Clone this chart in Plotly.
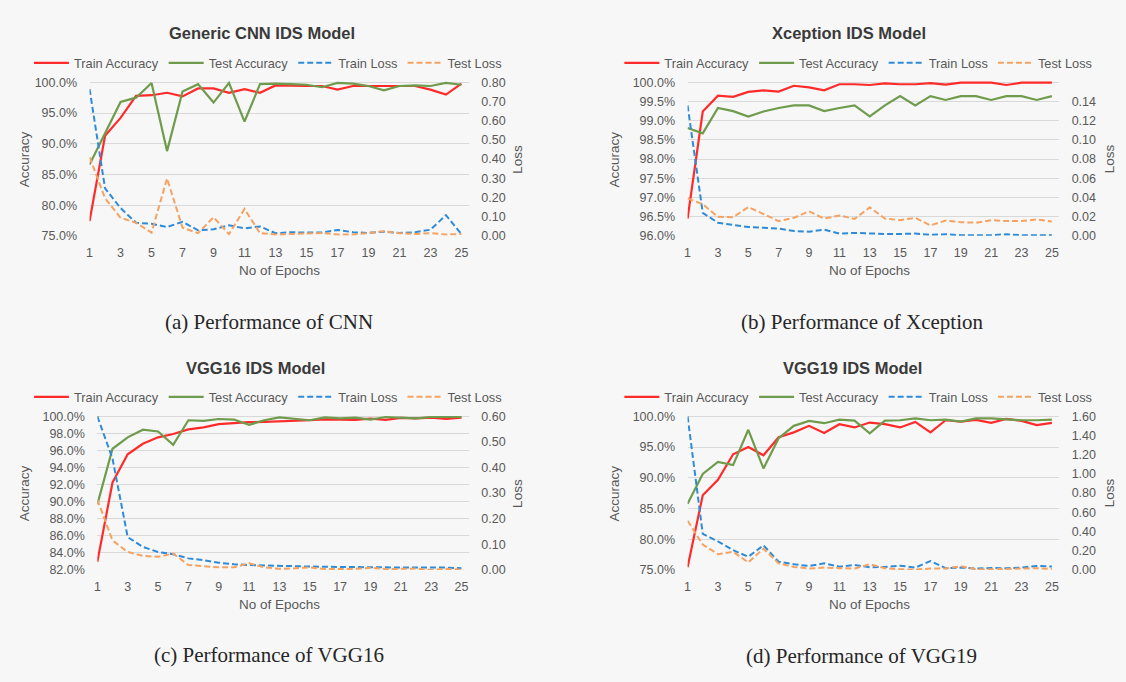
import plotly.graph_objects as go
import numpy as np

W, H = 1126, 682
epochs = list(range(1, 26))

# ---------------- data ----------------
cnn_train_acc = [77.4, 91.3, 94.2, 97.8, 97.9, 98.3, 97.7, 99.0, 99.0, 98.3, 98.9, 98.3, 99.5,
                 99.4, 99.4, 99.4, 98.8, 99.4, 99.4, 99.3, 99.4, 99.4, 98.8, 98.0, 99.8]
cnn_test_acc = [86.6, 91.8, 96.8, 97.5, 99.9, 88.8, 98.5, 99.7, 96.7, 99.9, 93.6, 99.7, 99.8,
                99.7, 99.6, 99.2, 99.9, 99.8, 99.4, 98.7, 99.4, 99.5, 99.4, 99.9, 99.6]
cnn_train_loss = [0.765, 0.247, 0.145, 0.068, 0.063, 0.046, 0.073, 0.029, 0.034, 0.055, 0.039,
                  0.049, 0.014, 0.019, 0.017, 0.017, 0.031, 0.019, 0.015, 0.022, 0.015, 0.019,
                  0.032, 0.108, 0.009]
cnn_test_loss = [0.41, 0.196, 0.094, 0.068, 0.017, 0.299, 0.043, 0.014, 0.097, 0.009, 0.14,
                 0.014, 0.007, 0.009, 0.012, 0.015, 0.007, 0.007, 0.015, 0.024, 0.014, 0.010,
                 0.014, 0.007, 0.010]

xc_train_acc = [96.45, 99.24, 99.65, 99.62, 99.75, 99.79, 99.76, 99.91, 99.87, 99.79, 99.95,
                99.95, 99.93, 99.97, 99.95, 99.95, 99.98, 99.94, 99.99, 99.99, 99.99, 99.93,
                99.99, 99.99, 99.99]
xc_test_acc = [98.81, 98.67, 99.33, 99.25, 99.11, 99.24, 99.33, 99.40, 99.40, 99.25, 99.33,
               99.40, 99.11, 99.40, 99.64, 99.40, 99.64, 99.54, 99.64, 99.64, 99.54, 99.64,
               99.64, 99.54, 99.64]
xc_train_loss = [0.136, 0.024, 0.0137, 0.0113, 0.0092, 0.0085, 0.0075, 0.0051, 0.0044, 0.0065,
                 0.0024, 0.0031, 0.0024, 0.002, 0.002, 0.0024, 0.001, 0.0017, 0.0007, 0.0007,
                 0.0007, 0.0017, 0.0007, 0.0007, 0.0007]
xc_test_loss = [0.039, 0.033, 0.0198, 0.0195, 0.030, 0.023, 0.0154, 0.0188, 0.0256, 0.018,
                0.0212, 0.0177, 0.0297, 0.018, 0.0164, 0.0188, 0.0109, 0.016, 0.0143, 0.0137,
                0.0164, 0.0154, 0.0154, 0.0171, 0.015]

v16_train_acc = [82.96, 92.25, 95.55, 96.78, 97.54, 97.93, 98.47, 98.70, 99.08, 99.23, 99.31,
                 99.35, 99.42, 99.42, 99.54, 99.65, 99.65, 99.58, 99.73, 99.58, 99.81, 99.77,
                 99.85, 99.69, 99.85]
v16_test_acc = [89.68, 96.2, 97.54, 98.43, 98.23, 96.66, 99.54, 99.46, 99.69, 99.62, 99.0,
                99.54, 99.88, 99.69, 99.54, 99.88, 99.77, 99.85, 99.62, 99.92, 99.88, 99.77,
                99.92, 99.92, 99.92]
v16_train_loss = [0.6, 0.435, 0.128, 0.09, 0.07, 0.061, 0.045, 0.038, 0.028, 0.022, 0.019,
                  0.017, 0.015, 0.014, 0.013, 0.012, 0.012, 0.012, 0.010, 0.010, 0.009, 0.009,
                  0.008, 0.009, 0.006]
v16_test_loss = [0.275, 0.115, 0.07, 0.055, 0.051, 0.064, 0.019, 0.015, 0.010, 0.010, 0.026,
                 0.010, 0.004, 0.006, 0.010, 0.003, 0.004, 0.004, 0.008, 0.003, 0.004, 0.005,
                 0.0, 0.004, 0.001]

v19_train_acc = [75.43, 87.15, 89.66, 93.82, 94.99, 93.66, 96.59, 97.39, 98.45, 97.28, 98.72,
                 98.19, 98.99, 98.72, 98.19, 99.09, 97.39, 99.36, 99.15, 99.41, 98.93, 99.57,
                 99.25, 98.56, 98.93]
v19_test_acc = [85.77, 90.62, 92.59, 92.06, 97.81, 91.52, 96.43, 98.45, 99.25, 98.88, 99.47,
                99.31, 97.23, 99.31, 99.36, 99.68, 99.36, 99.47, 99.15, 99.68, 99.68, 99.52,
                99.36, 99.36, 99.47]
v19_train_loss = [1.6, 0.375, 0.297, 0.205, 0.137, 0.256, 0.085, 0.058, 0.041, 0.068, 0.034,
                  0.051, 0.027, 0.031, 0.044, 0.024, 0.092, 0.017, 0.024, 0.014, 0.02, 0.017,
                  0.024, 0.041, 0.034]
v19_test_loss = [0.512, 0.263, 0.164, 0.188, 0.078, 0.222, 0.068, 0.031, 0.014, 0.024, 0.017,
                 0.014, 0.058, 0.017, 0.007, 0.003, 0.014, 0.014, 0.038, 0.007, 0.007, 0.007,
                 0.014, 0.017, 0.010]

titles = ["Generic CNN IDS Model", "Xception IDS Model", "VGG16 IDS Model", "VGG19 IDS Model"]
captions = ["(a) Performance of CNN", "(b) Performance of Xception",
            "(c) Performance of VGG16", "(d) Performance of VGG19"]
series_names = ["Train Accuracy", "Test Accuracy", "Train Loss", "Test Loss"]
acc_axes = [(75, 100, 5), (96, 100, 0.5), (82, 100, 2), (75, 100, 5)]
loss_axes = [(0.8, 0.1, 0.8), (0.16, 0.02, 0.14), (0.6, 0.1, 0.6), (1.6, 0.2, 1.6)]

panels_data = [
    (cnn_train_acc, cnn_test_acc, cnn_train_loss, cnn_test_loss),
    (xc_train_acc, xc_test_acc, xc_train_loss, xc_test_loss),
    (v16_train_acc, v16_test_acc, v16_train_loss, v16_test_loss),
    (v19_train_acc, v19_test_acc, v19_train_loss, v19_test_loss),
]

# ---------------- layout geometry (pixels) ----------------
geom = [
    dict(x0=86.8, x1=467.1, top=78.7, bot=235.0, title=(260, 28), cap=(267, 323),
         leg=(26, 59), acc_t=(21, 157), loss_t=(516, 157), ep_t=(277, 270)),
    dict(x0=686.4, x1=1059.0, top=78.7, bot=235.0, title=(848, 28), cap=(861, 323),
         leg=(618, 59), acc_t=(613, 157), loss_t=(1109, 157), ep_t=(869, 270)),
    dict(x0=94.6, x1=467.0, top=418.7, bot=575.0, title=(253, 369), cap=(267, 662),
         leg=(26, 399), acc_t=(21, 497), loss_t=(516, 497), ep_t=(277, 610)),
    dict(x0=686.4, x1=1059.0, top=418.7, bot=575.0, title=(852, 369), cap=(861, 663),
         leg=(618, 399), acc_t=(613, 497), loss_t=(1109, 497), ep_t=(869, 610)),
]

colors = ["#ff2b2b", "#6f9b4c", "#2f8bd8", "#f5a262"]
dashes = ["solid", "solid", "6px,3px", "6px,3px"]
FONT = "Liberation Sans, Arial, sans-serif"
TICKC = "#595959"
BG = "#f7f7f7"
PAD = 0.012

fig = go.Figure()
layout = dict(width=W, height=H, margin=dict(l=0, r=0, t=0, b=0),
              paper_bgcolor=BG, plot_bgcolor=BG, showlegend=True,
              font=dict(family=FONT, size=12.5, color=TICKC))
annotations = []

def px_x(p):
    return p / W

def px_y(p):
    return 1 - p / H

for i, (g, data) in enumerate(zip(geom, panels_data)):
    xa = "xaxis" if i == 0 else f"xaxis{i+1}"
    xref = "x" if i == 0 else f"x{i+1}"
    ya_acc_n = 2 * i + 1
    ya_loss_n = 2 * i + 2
    ya_acc = "yaxis" if ya_acc_n == 1 else f"yaxis{ya_acc_n}"
    ya_loss = f"yaxis{ya_loss_n}"
    yref_acc = "y" if ya_acc_n == 1 else f"y{ya_acc_n}"
    yref_loss = f"y{ya_loss_n}"
    legname = "legend" if i == 0 else f"legend{i+1}"

    height = g["bot"] - g["top"]
    top_ext = g["top"] - height * PAD
    ydom = [px_y(g["bot"]), px_y(top_ext)]
    xdom = [px_x(g["x0"]), px_x(g["x1"])]

    lo, hi, dt = acc_axes[i]
    lhi, ldt, lmaxlab = loss_axes[i]
    acc_ticks = list(np.round(np.arange(lo, hi + dt / 2, dt), 4))
    loss_ticks = list(np.round(np.arange(0, lmaxlab + ldt / 2, ldt), 4))

    layout[xa] = dict(domain=xdom, anchor=yref_acc, range=[1, 25.48],
                      tickvals=list(range(1, 26, 2)), ticktext=[str(v) for v in range(1, 26, 2)],
                      showgrid=False, zeroline=False, showline=False,
                      ticks="outside", ticklen=5, tickcolor="rgba(0,0,0,0)",
                      tickfont=dict(size=12.5, color=TICKC, family=FONT))
    layout[ya_acc] = dict(domain=ydom, anchor=xref, range=[lo, hi + (hi - lo) * PAD],
                          tickvals=acc_ticks, ticktext=[f"{v:.1f}%" for v in acc_ticks],
                          showgrid=True, gridcolor="#d9d9d9", gridwidth=1, zeroline=False,
                          showline=False, ticks="outside", ticklen=9,
                          tickcolor="rgba(0,0,0,0)",
                          tickfont=dict(size=12.5, color=TICKC, family=FONT))
    layout[ya_loss] = dict(domain=ydom, anchor=xref, overlaying=yref_acc, side="right",
                           range=[0, lhi * (1 + PAD)],
                           tickvals=loss_ticks, ticktext=[f"{v:.2f}" for v in loss_ticks],
                           showgrid=False, zeroline=False, showline=False,
                           ticks="outside", ticklen=9, tickcolor="rgba(0,0,0,0)",
                           tickfont=dict(size=12.5, color=TICKC, family=FONT))

    for k in range(4):
        yref = yref_acc if k < 2 else yref_loss
        fig.add_trace(go.Scatter(
            x=epochs, y=data[k], mode="lines", name=series_names[k],
            line=dict(color=colors[k], width=2.2 if k < 2 else 2.0, dash=dashes[k]),
            xaxis=xref, yaxis=yref, legend=legname, hoverinfo="skip"))

    layout[legname] = dict(orientation="h", x=px_x(g["leg"][0]), y=px_y(g["leg"][1]),
                           xanchor="left", yanchor="middle", bgcolor="rgba(0,0,0,0)",
                           font=dict(size=12.8, color=TICKC, family=FONT),
                           itemwidth=35, tracegroupgap=0)

    annotations.append(dict(text=f"<b>{titles[i]}</b>", x=px_x(g["title"][0]), y=px_y(g["title"][1]),
                            xref="paper", yref="paper", showarrow=False, xanchor="center",
                            yanchor="middle", font=dict(size=16.5, color="#3a3a3a", family=FONT)))
    annotations.append(dict(text=captions[i], x=px_x(g["cap"][0]), y=px_y(g["cap"][1]),
                            xref="paper", yref="paper", showarrow=False, xanchor="center",
                            yanchor="middle",
                            font=dict(size=21, color="#262626",
                                      family="Liberation Serif, Times New Roman, serif")))
    annotations.append(dict(text="Accuracy", x=px_x(g["acc_t"][0]), y=px_y(g["acc_t"][1]),
                            xref="paper", yref="paper", showarrow=False, textangle=-90,
                            xanchor="center", yanchor="middle",
                            font=dict(size=13.5, color=TICKC, family=FONT)))
    annotations.append(dict(text="Loss", x=px_x(g["loss_t"][0]), y=px_y(g["loss_t"][1]),
                            xref="paper", yref="paper", showarrow=False, textangle=-90,
                            xanchor="center", yanchor="middle",
                            font=dict(size=13.5, color=TICKC, family=FONT)))
    annotations.append(dict(text="No of Epochs", x=px_x(g["ep_t"][0]), y=px_y(g["ep_t"][1]),
                            xref="paper", yref="paper", showarrow=False,
                            xanchor="center", yanchor="middle",
                            font=dict(size=13.5, color=TICKC, family=FONT)))

layout["annotations"] = annotations
fig.update_layout(**layout)
fig.write_html("out.html", config={"displayModeBar": False},
               post_script="document.body.style.margin='0';document.body.style.overflow='hidden';")
